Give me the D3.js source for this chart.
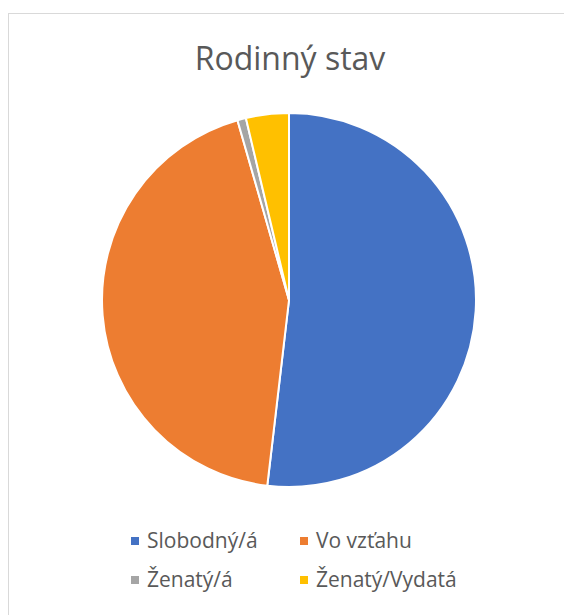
<!DOCTYPE html>
<html>
<head>
<meta charset="utf-8">
<script src="https://cdn.jsdelivr.net/npm/d3@7"></script>
<style>
  html, body { margin: 0; padding: 0; background: #fff; }
  svg { display: block; font-family: "Open Sans", "Noto Sans", sans-serif; }
</style>
</head>
<body>
<svg id="chart" width="564" height="615"></svg>
<script>
// Marital status of respondents (counts)
const categories = ["Slobodný/á", "Vo vzťahu", "Ženatý/á", "Ženatý/Vydatá"];
const values = [70, 59, 1, 5];
const colors = ["#4472C4", "#ED7D31", "#A5A5A5", "#FFC000"];
const title = "Rodinný stav";

const svg = d3.select("#chart");

// chart area frame
svg.append("rect")
  .attr("x", 8.5).attr("y", 13.5)
  .attr("width", 600).attr("height", 650)
  .attr("fill", "#fff")
  .attr("stroke", "#d9d9d9")
  .attr("stroke-width", 1);

svg.append("text")
  .attr("x", 290).attr("y", 70)
  .attr("text-anchor", "middle")
  .attr("font-size", 32)
  .attr("fill", "#595959")
  .text(title);

const cx = 289, cy = 300, r = 187;

const pie = d3.pie().sort(null).value(d => d);
const arc = d3.arc().innerRadius(0).outerRadius(r);

svg.append("g")
  .attr("transform", `translate(${cx},${cy})`)
  .selectAll("path")
  .data(pie(values))
  .join("path")
  .attr("d", arc)
  .attr("fill", (d, i) => colors[i])
  .attr("stroke", "#fff")
  .attr("stroke-width", 2)
  .attr("stroke-linejoin", "round");

// legend: two columns, two rows
const colX = d3.scaleOrdinal().domain([0, 1]).range([131, 300]);
const rowY = d3.scaleOrdinal().domain([0, 1]).range([541, 580]);

const legend = svg.append("g")
  .selectAll("g")
  .data(categories)
  .join("g")
  .attr("transform", (d, i) => `translate(${colX(i % 2)},${rowY(Math.floor(i / 2))})`);

legend.append("rect")
  .attr("x", 0).attr("y", -4)
  .attr("width", 8).attr("height", 8)
  .attr("fill", (d, i) => colors[i]);

legend.append("text")
  .attr("x", 16).attr("y", 0)
  .attr("dy", "0.35em")
  .attr("font-size", 21)
  .attr("fill", "#595959")
  .text(d => d);
</script>
</body>
</html>
